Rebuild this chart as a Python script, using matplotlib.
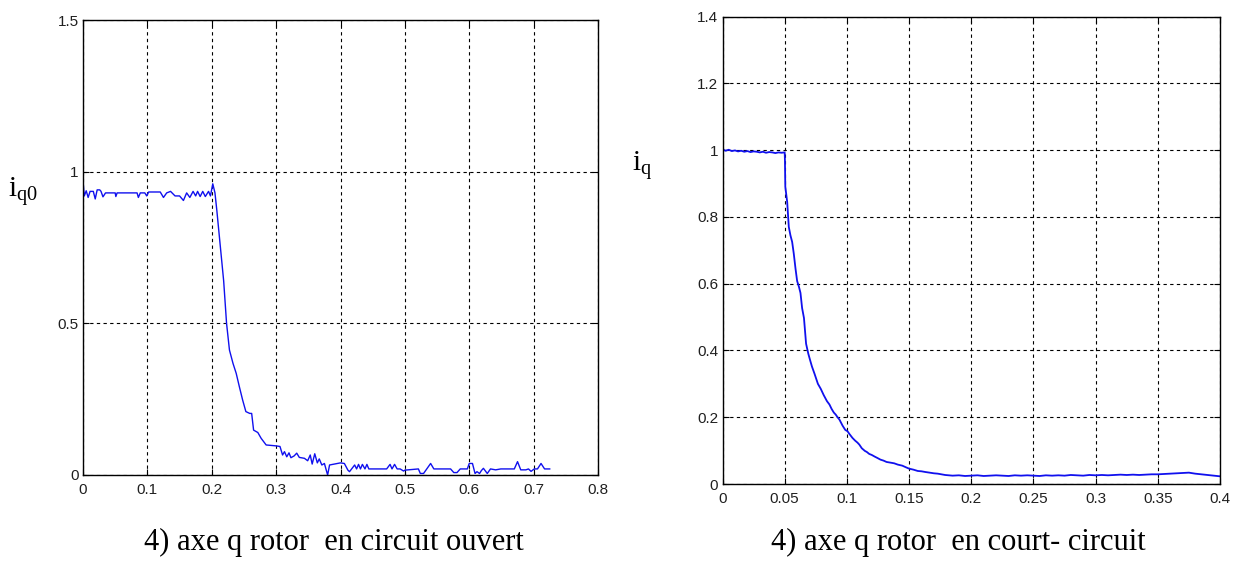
import matplotlib
matplotlib.use("Agg")
import matplotlib.pyplot as plt
from matplotlib.ticker import FuncFormatter

# ---------------- data ----------------
# Left: open-circuit q-axis rotor current i_q0
t_open = [0.000, 0.002, 0.005, 0.008, 0.011, 0.016, 0.019, 0.022, 0.026, 0.028,
          0.031, 0.035, 0.045, 0.050, 0.051, 0.053, 0.084, 0.086, 0.089, 0.096,
          0.099, 0.102, 0.120, 0.125, 0.130, 0.136, 0.143, 0.150, 0.156, 0.161,
          0.166, 0.171, 0.175, 0.178, 0.182, 0.186, 0.190, 0.195, 0.198, 0.2016,
          0.205, 0.208, 0.213, 0.2185, 0.223, 0.2275, 0.233, 0.238, 0.243, 0.248,
          0.253, 0.259, 0.262, 0.265, 0.2716, 0.2767, 0.2845, 0.300, 0.306, 0.310,
          0.313, 0.3165, 0.320, 0.323, 0.328, 0.332, 0.336, 0.344, 0.349, 0.353,
          0.356, 0.360, 0.364, 0.367, 0.371, 0.375, 0.380, 0.383, 0.400, 0.406,
          0.4115, 0.414, 0.418, 0.422, 0.425, 0.428, 0.431, 0.434, 0.438, 0.441,
          0.444, 0.4717, 0.477, 0.480, 0.484, 0.488, 0.4927, 0.498, 0.500, 0.521,
          0.524, 0.529, 0.5346, 0.540, 0.545, 0.571, 0.576, 0.581, 0.586, 0.597,
          0.600, 0.605, 0.609, 0.612, 0.616, 0.619, 0.622, 0.628, 0.633, 0.641,
          0.649, 0.670, 0.675, 0.680, 0.688, 0.692, 0.696, 0.701, 0.706, 0.7115,
          0.717, 0.725]
iq0 = [0.970, 0.920, 0.937, 0.915, 0.935, 0.935, 0.910, 0.940, 0.940, 0.935,
       0.917, 0.930, 0.930, 0.930, 0.918, 0.930, 0.930, 0.915, 0.930, 0.930,
       0.920, 0.933, 0.933, 0.915, 0.930, 0.935, 0.920, 0.920, 0.905, 0.930,
       0.915, 0.935, 0.920, 0.935, 0.918, 0.935, 0.918, 0.935, 0.920, 0.960,
       0.930, 0.870, 0.760, 0.640, 0.500, 0.412, 0.368, 0.335, 0.290, 0.247,
       0.209, 0.203, 0.203, 0.148, 0.140, 0.121, 0.099, 0.096, 0.094, 0.066,
       0.077, 0.060, 0.073, 0.057, 0.063, 0.072, 0.058, 0.055, 0.047, 0.066,
       0.036, 0.070, 0.040, 0.053, 0.033, 0.038, 0.000, 0.033, 0.040, 0.038,
       0.016, 0.011, 0.022, 0.033, 0.020, 0.035, 0.020, 0.035, 0.020, 0.035,
       0.020, 0.020, 0.035, 0.020, 0.035, 0.020, 0.020, 0.013, 0.016, 0.020,
       0.005, 0.005, 0.022, 0.038, 0.020, 0.020, 0.008, 0.008, 0.020, 0.020,
       0.038, 0.038, 0.005, 0.011, 0.005, 0.015, 0.022, 0.005, 0.020, 0.017,
       0.020, 0.020, 0.044, 0.017, 0.017, 0.020, 0.012, 0.020, 0.020, 0.038,
       0.020, 0.020]

# Right: short-circuit q-axis rotor current i_q
t_short = [0.0000, 0.0025, 0.0050, 0.0075, 0.0100, 0.0125, 0.0150, 0.0175, 0.0200, 0.0225,
           0.0250, 0.0275, 0.0300, 0.0325, 0.0350, 0.0375, 0.0400, 0.0425, 0.0450, 0.0475,
           0.0500, 0.0502, 0.0505, 0.0520, 0.0533, 0.0546, 0.0560, 0.0573, 0.0587, 0.0600,
           0.0615, 0.0627, 0.0640, 0.0655, 0.0672, 0.0690, 0.0705, 0.0719, 0.0740, 0.0767,
           0.0790, 0.0814, 0.0840, 0.0860, 0.0877, 0.0895, 0.0910, 0.0925, 0.0940, 0.0965,
           0.0987, 0.1005, 0.1020, 0.1045, 0.1066, 0.1085, 0.1100, 0.1120, 0.1145, 0.1160,
           0.1180, 0.1200, 0.1224, 0.1245, 0.1270, 0.1295, 0.1319, 0.1350, 0.1380, 0.1410,
           0.1445, 0.1475, 0.1500, 0.1535, 0.1570, 0.1600, 0.1630, 0.1665, 0.1700, 0.1730,
           0.1760, 0.1790, 0.1820, 0.1850, 0.1900, 0.1950, 0.2000, 0.2050, 0.2100, 0.2150,
           0.2200, 0.2250, 0.2300, 0.2350, 0.2400, 0.2450, 0.2500, 0.2550, 0.2600, 0.2650,
           0.2700, 0.2750, 0.2800, 0.2850, 0.2900, 0.2950, 0.3000, 0.3050, 0.3100, 0.3150,
           0.3200, 0.3250, 0.3300, 0.3350, 0.3400, 0.3450, 0.3500, 0.3550, 0.3600, 0.3650,
           0.3700, 0.3750, 0.3800, 0.3850, 0.3900, 0.3950, 0.4000]
iq = [1.002, 0.998, 1.001, 0.997, 0.999, 0.996, 0.998, 0.995, 0.997, 0.994,
      0.996, 0.995, 0.993, 0.995, 0.992, 0.994, 0.993, 0.991, 0.993, 0.992,
      0.993, 0.970, 0.890, 0.845, 0.770, 0.745, 0.725, 0.690, 0.645, 0.608,
      0.590, 0.572, 0.527, 0.497, 0.420, 0.390, 0.370, 0.352, 0.330, 0.300,
      0.285, 0.266, 0.248, 0.238, 0.225, 0.214, 0.208, 0.200, 0.193, 0.175,
      0.162, 0.158, 0.150, 0.138, 0.130, 0.124, 0.118, 0.107, 0.099, 0.096,
      0.090, 0.087, 0.082, 0.078, 0.073, 0.070, 0.066, 0.064, 0.062, 0.058,
      0.055, 0.050, 0.046, 0.043, 0.039, 0.038, 0.036, 0.034, 0.032, 0.031,
      0.029, 0.027, 0.026, 0.025, 0.026, 0.024, 0.025, 0.026, 0.024, 0.025,
      0.026, 0.025, 0.024, 0.026, 0.025, 0.026, 0.025, 0.024, 0.026, 0.025,
      0.026, 0.025, 0.027, 0.026, 0.025, 0.027, 0.026, 0.027, 0.026, 0.027,
      0.028, 0.027, 0.028, 0.027, 0.028, 0.029, 0.029, 0.030, 0.031, 0.032,
      0.033, 0.034, 0.031, 0.029, 0.027, 0.025, 0.023]

left_xticks = [0, 0.1, 0.2, 0.3, 0.4, 0.5, 0.6, 0.7, 0.8]
left_yticks = [0, 0.5, 1, 1.5]
right_xticks = [0, 0.05, 0.1, 0.15, 0.2, 0.25, 0.3, 0.35, 0.4]
right_yticks = [0, 0.2, 0.4, 0.6, 0.8, 1, 1.2, 1.4]

caption_left = "4) axe q rotor  en circuit ouvert"
caption_right = "4) axe q rotor  en court- circuit"

# ---------------- style ----------------
tick_family = "Liberation Sans"
tick_size = 11

plt.rcParams['mathtext.fontset'] = 'custom'
plt.rcParams['mathtext.rm'] = 'Liberation Serif'
plt.rcParams['mathtext.it'] = 'Liberation Serif'

fig = plt.figure(figsize=(12.35, 5.61), dpi=100)
fig.patch.set_facecolor('white')

W, H = 1235.0, 561.0
def box(x0, y0, x1, y1):
    return [x0 / W, 1 - y1 / H, (x1 - x0) / W, (y1 - y0) / H]

ax1 = fig.add_axes(box(83, 20, 598, 475))
ax2 = fig.add_axes(box(722.5, 16.5, 1220, 484))

fmt = FuncFormatter(lambda v, p: ('%g' % round(v, 4)))

for ax, xt, yt in [(ax1, left_xticks, left_yticks), (ax2, right_xticks, right_yticks)]:
    ax.set_xticks(xt)
    ax.set_yticks(yt)
    ax.xaxis.set_major_formatter(fmt)
    ax.yaxis.set_major_formatter(fmt)
    ax.grid(True, color='black', linestyle=(0, (3, 3)), linewidth=0.8)
    ax.tick_params(direction='in', top=True, right=True, length=4, width=0.8,
                   colors='black', labelsize=tick_size)
    ax.tick_params(axis='x', pad=6)
    ax.tick_params(axis='y', pad=3)
    for lab in ax.get_xticklabels() + ax.get_yticklabels():
        lab.set_family(tick_family)
        lab.set_color('#202020')
    for s in ax.spines.values():
        s.set_color('black')
        s.set_linewidth(1.0)

ax1.plot(t_open, iq0, color='#1010ee', linewidth=1.0)
ax1.set_xlim(0, 0.8)
ax1.set_ylim(0, 1.5)

ax2.plot(t_short, iq, color='#1010ee', linewidth=1.3)
ax2.set_xlim(0, 0.4)
ax2.set_ylim(0, 1.4)

fig.text(23 / W, 1 - 192 / H, r'$\mathrm{i}_{\mathrm{q0}}$', fontsize=21,
         ha='center', va='center')
fig.text(642 / W, 1 - 165 / H, r'$\mathrm{i}_{\mathrm{q}}$', fontsize=21,
         ha='center', va='center')

fig.text(334 / W, 1 - 542 / H, caption_left, fontsize=22, family='Liberation Serif',
         ha='center', va='center')
fig.text(958 / W, 1 - 542 / H, caption_right, fontsize=22, family='Liberation Serif',
         ha='center', va='center')

fig.savefig('out.png', dpi=100, facecolor='white')
